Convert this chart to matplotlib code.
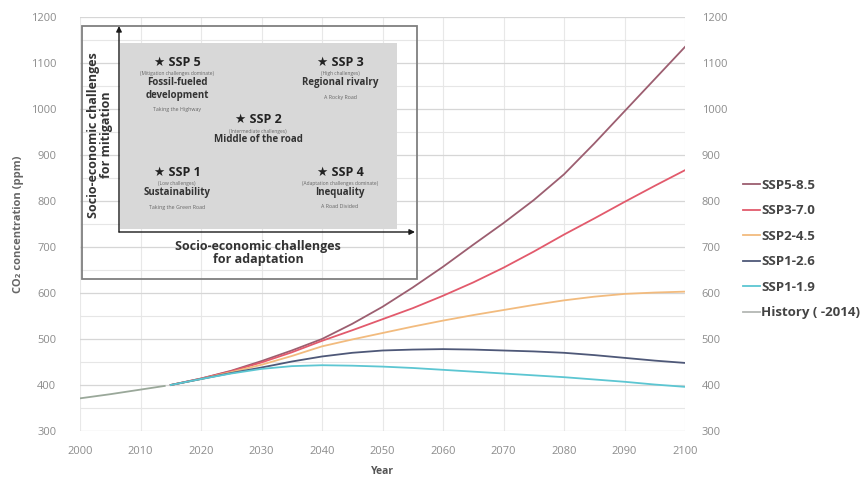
"""CO2 concentration pathways under the SSP scenarios, with the SSP challenge map."""

import matplotlib

matplotlib.use("Agg")
import matplotlib.pyplot as plt
from matplotlib.patches import Rectangle, FancyArrowPatch
from matplotlib.ticker import MultipleLocator

plt.rcParams["font.family"] = ["Open Sans", "DejaVu Sans"]

# historical record
hist_years = [2000, 2005, 2010, 2014]
hist_ppm = [371, 380, 390, 398]

# scenario projections (ppm)
ssp_years = [2015, 2020, 2025, 2030, 2035, 2040, 2045, 2050, 2055,
             2060, 2065, 2070, 2075, 2080, 2085, 2090, 2095, 2100]
ssp585 = [400, 414, 431, 452, 475, 500, 533, 570, 612,
          657, 705, 752, 802, 858, 925, 995, 1065, 1135]
ssp370 = [400, 414, 430, 449, 471, 496, 519, 543, 567,
          594, 623, 655, 690, 727, 762, 798, 833, 867]
ssp245 = [400, 413, 428, 444, 463, 484, 499, 513, 527,
          540, 552, 563, 574, 584, 592, 598, 601, 603]
ssp126 = [400, 413, 426, 438, 451, 462, 470, 475, 477,
          478, 477, 475, 473, 470, 465, 459, 453, 448]
ssp119 = [400, 413, 425, 435, 441, 443, 442, 440, 437,
          433, 429, 425, 421, 417, 412, 407, 401, 396]

series_names = ["SSP5-8.5", "SSP3-7.0", "SSP2-4.5", "SSP1-2.6", "SSP1-1.9"]
series_values = [ssp585, ssp370, ssp245, ssp126, ssp119]
series_colors = ["#9C5E70", "#E25A6C", "#F2BB7E", "#4E5878", "#5CC6D2"]
hist_label = "History ( -2014)"
hist_color = "#B4B8B4"

# SSP challenge map: (title, note, name, tagline, x, y) in inset pixels
ssp_boxes = [
    ("★ SSP 5", "(Mitigation challenges dominate)", "Fossil-fueled\ndevelopment", "Taking the Highway", 96, 37),
    ("★ SSP 3", "(High challenges)", "Regional rivalry", "A Rocky Road", 259, 37),
    ("★ SSP 2", "(Intermediate challenges)", "Middle of the road", "", 177, 94),
    ("★ SSP 1", "(Low challenges)", "Sustainability", "Taking the Green Road", 96, 147),
    ("★ SSP 4", "(Adaptation challenges dominate)", "Inequality", "A Road Divided", 259, 147),
]

W, H = 861, 478
fig = plt.figure(figsize=(W / 100, H / 100), dpi=100)
ax = fig.add_axes([80 / W, 1 - 431 / H, 605 / W, 414 / H])

for name, vals, col in zip(series_names, series_values, series_colors):
    ax.plot(ssp_years, vals, color=col, lw=1.3, label=name, zorder=3)
ax.plot(hist_years, hist_ppm, color="#9AA89A", lw=1.3, zorder=3)
# legend swatch for history uses the lighter grey
ax.plot([], [], color=hist_color, lw=1.3, label=hist_label)

ax.set_xlim(2000, 2100)
ax.set_ylim(300, 1200)
ax.xaxis.set_major_locator(MultipleLocator(10))
ax.yaxis.set_major_locator(MultipleLocator(100))
ax.yaxis.set_minor_locator(MultipleLocator(50))
ax.grid(which="major", axis="y", color="#D6D6D6", lw=0.9)
ax.grid(which="minor", axis="y", color="#E6E6E6", lw=0.8)
ax.grid(which="major", axis="x", color="#E8E8E8", lw=0.8)
ax.set_axisbelow(True)
for s in ax.spines.values():
    s.set_visible(False)
ax.tick_params(which="both", length=0, colors="#8C8C8C", labelsize=8)
ax.tick_params(axis="y", pad=17)
ax.tick_params(axis="x", pad=11)

ax2 = ax.twinx()
ax2.set_ylim(300, 1200)
ax2.yaxis.set_major_locator(MultipleLocator(100))
for s in ax2.spines.values():
    s.set_visible(False)
ax2.tick_params(length=0, colors="#8C8C8C", labelsize=8, pad=12)

ax.set_xlabel("Year", fontsize=7.5, fontweight="bold", color="#555555", labelpad=6)
ax.set_ylabel("CO₂ concentration (ppm)", fontsize=8, fontweight="bold", color="#666666", labelpad=5)

leg = ax.legend(loc="upper left", bbox_to_anchor=(736 / W, 1 - 172 / H),
                bbox_transform=fig.transFigure, frameon=False, fontsize=9.5,
                handlelength=1.3, handletextpad=0.1, labelspacing=0.95, borderpad=0)
for t in leg.get_texts():
    t.set_fontweight("bold")
    t.set_color("#444444")

# SSP challenge map inset, laid out in pixel units
bx0, by0, bx1, by1 = 81, 25, 417, 279
inset = fig.add_axes([bx0 / W, 1 - by1 / H, (bx1 - bx0) / W, (by1 - by0) / H])
inset.set_xlim(0, bx1 - bx0)
inset.set_ylim(by1 - by0, 0)
inset.axis("off")
inset.patch.set_alpha(0)
inset.add_patch(Rectangle((0.5, 0.5), bx1 - bx0 - 1, by1 - by0 - 1, fill=False,
                          ec="#7F7F7F", lw=1.3, clip_on=False))
inset.add_patch(Rectangle((39, 18), 277, 186, fc="#D8D8D8", ec="none"))
inset.add_patch(FancyArrowPatch((38, 207), (38, 1), arrowstyle="-|>", mutation_scale=8,
                                color="#1A1A1A", lw=1.0, shrinkA=0, shrinkB=0))
inset.add_patch(FancyArrowPatch((38, 207), (334, 207), arrowstyle="-|>", mutation_scale=8,
                                color="#1A1A1A", lw=1.0, shrinkA=0, shrinkB=0))

inset.text(19, 110, "Socio-economic challenges\nfor mitigation", rotation=90, ha="center",
           va="center", fontsize=9, fontweight="bold", color="#333333", linespacing=1.0)
inset.text(177, 228, "Socio-economic challenges\nfor adaptation", ha="center", va="center",
           fontsize=9, fontweight="bold", color="#333333", linespacing=1.0)

for title, note, name, tag, x, y in ssp_boxes:
    inset.text(x, y, title, ha="center", va="center", fontsize=9, fontweight="bold", color="#222222")
    inset.text(x, y + 12, note, ha="center", va="center", fontsize=3.5, color="#666666")
    nlines = name.count("\n") + 1
    name_y = y + 21 + 6 * (nlines - 1)
    inset.text(x, name_y, name, ha="center", va="center", fontsize=7, fontweight="bold",
               color="#333333", linespacing=1.15)
    if tag:
        inset.text(x, name_y + 6 * nlines + 8, tag, ha="center", va="center",
                   fontsize=3.8, color="#666666")

fig.savefig("out.png", dpi=100)
